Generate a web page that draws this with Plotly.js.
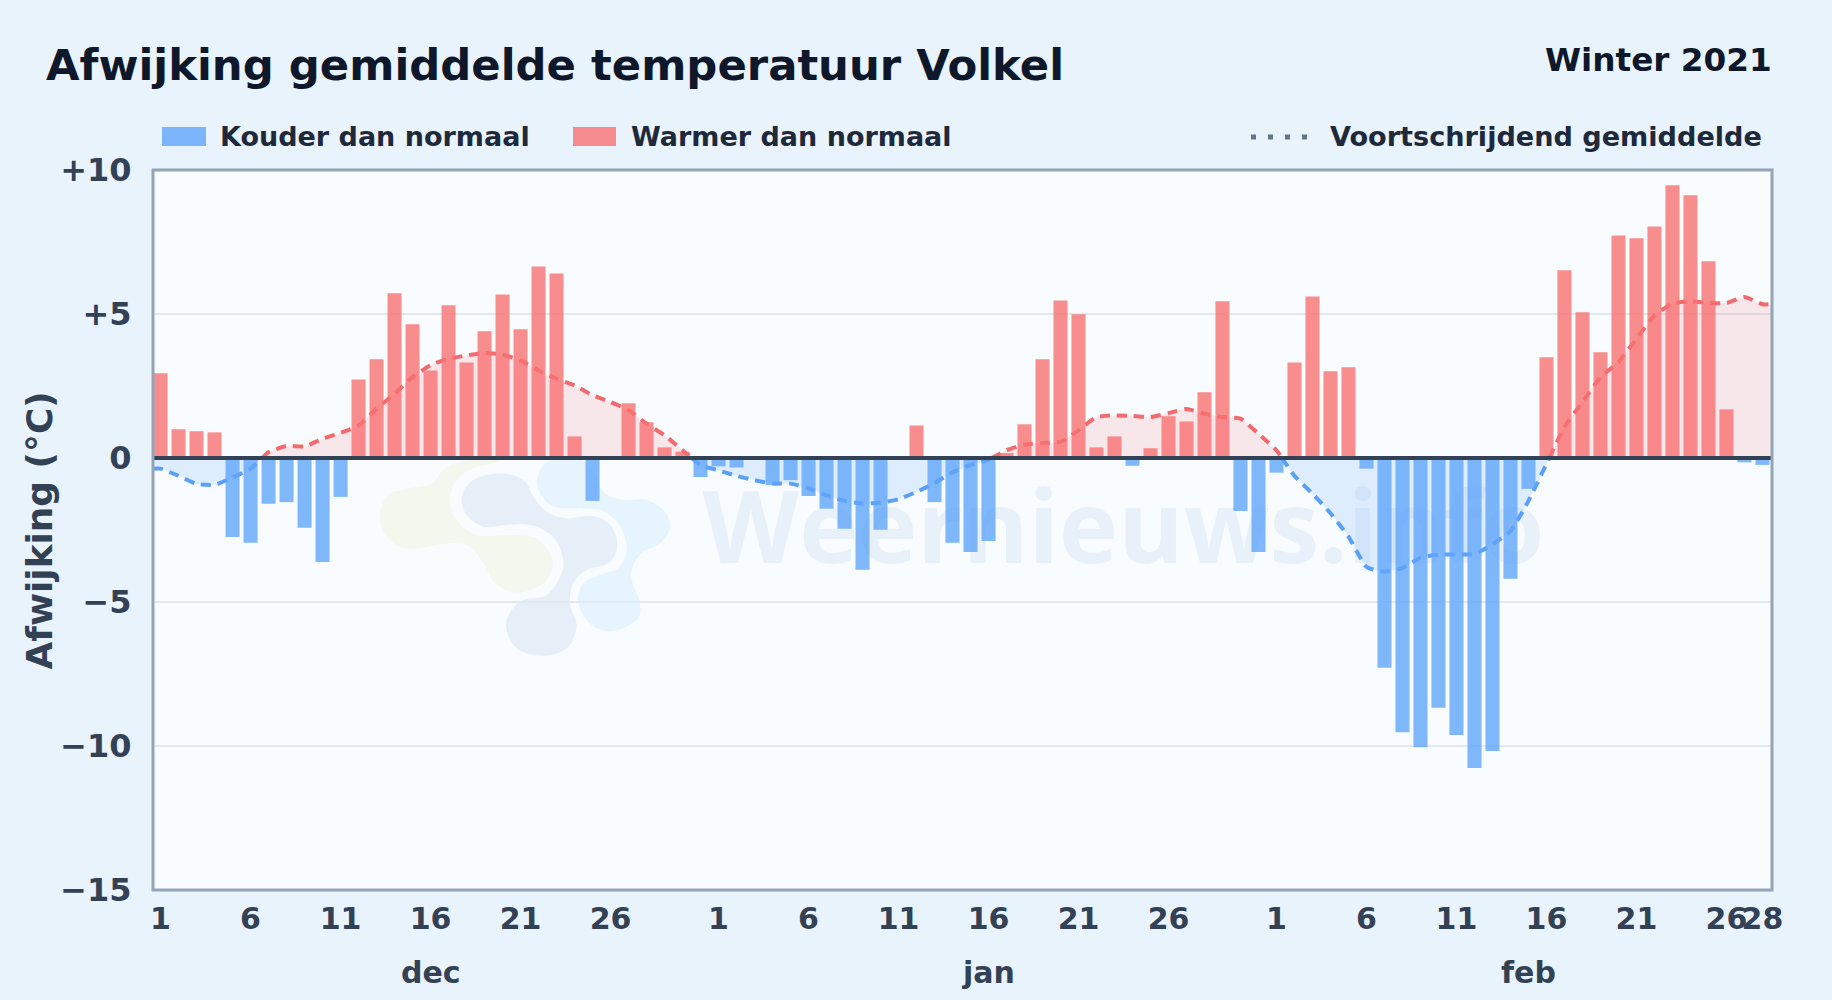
<!DOCTYPE html>
<html><head><meta charset="utf-8">
<script src="https://cdn.plot.ly/plotly-3.0.1.min.js"></script>
<style>html,body{margin:0;padding:0;background:#e9f3fc}#c{width:1832px;height:1000px}</style>
</head><body><div id="c"></div>
<script>
const afwijking = [2.94,1.0,0.93,0.89,-2.74,-2.94,-1.59,-1.53,-2.42,-3.61,-1.35,2.73,3.43,5.72,4.64,3.04,5.3,3.32,4.4,5.68,4.47,6.65,6.41,0.75,-1.49,0,1.9,1.24,0.37,0.22,-0.66,
-0.29,-0.33,0,-0.94,-0.77,-1.32,-1.76,-2.46,-3.88,-2.49,0,1.13,-1.53,-2.94,-3.26,-2.88,0.17,1.17,3.43,5.47,4.99,0.37,0.75,-0.27,0.34,1.45,1.27,2.28,5.44,-1.84,-3.26,
-0.51,3.32,5.61,3.01,3.15,-0.37,-7.28,-9.52,-10.04,-8.67,-9.62,-10.76,-10.17,-4.19,-1.07,3.5,6.52,5.06,3.67,7.73,7.63,8.04,9.47,9.12,6.83,1.69,-0.15,-0.24];
const gemiddelde = [-0.37,-0.62,-0.9,-0.93,-0.68,-0.37,0.2,0.42,0.4,0.67,0.87,1.13,1.71,2.23,2.81,3.22,3.45,3.56,3.65,3.59,3.39,3.04,2.75,2.52,2.18,1.94,1.66,1.19,0.79,0.27,-0.25,
-0.43,-0.62,-0.77,-0.89,-0.89,-1.05,-1.3,-1.49,-1.58,-1.55,-1.43,-1.18,-0.87,-0.5,-0.25,-0.06,0.27,0.47,0.52,0.56,0.96,1.42,1.48,1.46,1.42,1.56,1.7,1.54,1.42,1.37,0.84,
0.27,-0.62,-1.24,-1.92,-2.73,-3.78,-3.95,-3.82,-3.47,-3.35,-3.35,-3.33,-3.0,-2.54,-1.49,-0.2,1.08,1.94,2.8,3.33,4.14,4.95,5.36,5.44,5.38,5.38,5.59,5.34];
const xTickPos = [0,5,10,15,20,25,31,36,41,46,51,56,62,67,72,77,82,87,89];
const xTickText = ['1','6','11','16','21','26','1','6','11','16','21','26','1','6','11','16','21','26','28'];
const yTickVals = [-15,-10,-5,0,5,10];
const yTickText = ['−15','−10','−5','0','+5','+10'];
const months = ['dec','jan','feb'];
const monthPos = [15,46,76];
const legendLabels = ['Kouder dan normaal','Warmer dan normaal','Voortschrijdend gemiddelde'];
const xRange = [-0.42,89.53];
const yRange = [-15,10];

const W=1832,H=1000,ML=153,MR=60,MT=170,MB=110;
const PW=W-ML-MR,PH=H-MT-MB;
const px=v=>(v-ML)/PW, py=v=>1-(v-MT)/PH;
const days = afwijking.map((_,i)=>i);

// moving-average line, held out to the plot edges and split at zero crossings
const mx=[xRange[0]],my=[gemiddelde[0]];
gemiddelde.forEach((v,i)=>{
  mx.push(i);my.push(v);
  const n=gemiddelde[i+1];
  if(n!==undefined && v*n<0){mx.push(i+v/(v-n));my.push(0);}
});
mx.push(xRange[1]);my.push(gemiddelde[gemiddelde.length-1]);
const posLine=my.map(v=>v>=0?v:null), negLine=my.map(v=>v<=0?v:null);
const posFill=my.map(v=>Math.max(v,0)), negFill=my.map(v=>Math.min(v,0));

const traces=[
 {type:'scatter',mode:'lines',x:mx,y:negFill,fill:'tozeroy',fillcolor:'rgba(96,165,250,0.17)',line:{width:0,shape:'spline',smoothing:0.5},hoverinfo:'skip',showlegend:false},
 {type:'scatter',mode:'lines',x:mx,y:posFill,fill:'tozeroy',fillcolor:'rgba(248,113,113,0.15)',line:{width:0,shape:'spline',smoothing:0.5},hoverinfo:'skip',showlegend:false},
 {type:'scatter',mode:'lines',x:mx,y:negLine,line:{color:'#5aa0f8',width:4,dash:'10px,7px',shape:'spline',smoothing:0.5},connectgaps:false,showlegend:false},
 {type:'scatter',mode:'lines',x:mx,y:posLine,line:{color:'#f26a6e',width:4,dash:'10px,7px',shape:'spline',smoothing:0.5},connectgaps:false,showlegend:false},
 {type:'bar',name:legendLabels[0],x:days,y:afwijking.map(v=>v<0?v:null),width:0.78,marker:{color:'rgba(96,165,250,0.8)',line:{width:0}},xaxis:'x2',yaxis:'y2',showlegend:false},
 {type:'bar',name:legendLabels[1],x:days,y:afwijking.map(v=>v>0?v:null),width:0.78,marker:{color:'rgba(248,113,113,0.8)',line:{width:0}},xaxis:'x2',yaxis:'y2',showlegend:false}
];

// watermark logo: closed smooth blobs, in pixels of the logo crop
const logoOrigin=[360,440];
function blob(pts,color){
  const P=pts.map(p=>[logoOrigin[0]+p[0]/3,logoOrigin[1]+p[1]/3]);
  const n=P.length;let d='M'+px(P[0][0])+','+py(P[0][1]);
  for(let i=0;i<n;i++){
    const a=P[(i-1+n)%n],b=P[i],c=P[(i+1)%n],e=P[(i+2)%n];
    const c1=[b[0]+(c[0]-a[0])/6,b[1]+(c[1]-a[1])/6],c2=[c[0]-(e[0]-b[0])/6,c[1]-(e[1]-b[1])/6];
    d+='C'+px(c1[0])+','+py(c1[1])+' '+px(c2[0])+','+py(c2[1])+' '+px(c[0])+','+py(c[1]);
  }
  return {type:'path',xref:'paper',yref:'paper',path:d+'Z',fillcolor:color,line:{width:0},layer:'below'};
}
const logoGrey=[[305,170],[340,120],[420,100],[490,120],[520,170],[560,215],[620,235],[700,228],[755,260],[772,320],[745,370],[680,390],[640,430],[630,490],[650,560],[620,625],[545,648],[470,625],[438,560],[455,510],[490,480],[560,465],[600,410],[610,360],[580,290],[510,255],[440,255],[370,260],[320,225]];
const logoYellow=[[60,225],[85,165],[150,145],[215,130],[260,80],[330,60],[420,62],[340,85],[290,120],[270,180],[290,240],[350,285],[440,285],[530,295],[578,360],[555,425],[480,458],[410,435],[370,370],[330,320],[270,310],[200,320],[130,325],[75,285]];
const logoBlue=[[533,110],[565,65],[640,50],[700,90],[730,155],[790,180],[860,180],[915,215],[930,265],[900,310],[850,335],[820,375],[815,420],[840,490],[830,540],[760,573],[695,555],[655,490],[670,430],[720,405],[780,380],[800,320],[775,250],[720,210],[650,205],[580,200],[540,160]];

const FONT='"DejaVu Sans"';
const txt=(text,x,y,size,color,anchor,xref)=>({text,x,y,xref:xref||'paper',yref:'paper',xanchor:anchor||'left',yanchor:'middle',showarrow:false,font:{family:FONT,size,color,weight:700}});

const layout={
 width:W,height:H,autosize:false,
 paper_bgcolor:'#e9f3fc',plot_bgcolor:'#f8fcff',
 margin:{l:ML,r:MR,t:MT,b:MB,pad:0},
 barmode:'overlay',showlegend:false,
 title:{text:'Afwijking gemiddelde temperatuur Volkel',x:46/W,xanchor:'left',y:1-65/H,yanchor:'middle',font:{family:FONT,size:43.35,color:'#0f172a',weight:700}},
 xaxis:{range:xRange,tickmode:'array',tickvals:xTickPos,ticktext:xTickText,tickangle:0,showgrid:false,zeroline:false,showline:false,ticks:'outside',ticklen:2,tickcolor:'rgba(0,0,0,0)',tickfont:{family:FONT,size:30,color:'#334155',weight:700}},
 yaxis:{range:yRange,tickmode:'array',tickvals:yTickVals,ticktext:yTickText,showgrid:true,gridcolor:'#e2e8f0',gridwidth:2,zeroline:false,showline:false,ticks:'outside',ticklen:14,tickcolor:'rgba(0,0,0,0)',tickfont:{family:FONT,size:32,color:'#334155',weight:700}},
 xaxis2:{overlaying:'x',range:xRange,visible:false},
 yaxis2:{overlaying:'y',range:yRange,visible:false},
 shapes:[
  blob(logoYellow,'#f3f8ee'),blob(logoBlue,'#e6f4fe'),blob(logoGrey,'#e6eff8'),
  {type:'rect',xref:'paper',yref:'paper',x0:px(701),x1:px(1546),y0:py(492),y1:py(569),line:{width:0},fillcolor:'rgba(0,0,0,0)',layer:'below',
   label:{text:'<b>Weernieuws.info</b>',textposition:'middle center',font:{family:'"Open Sans"',size:100,color:'#e8f1f9'}}},
  {type:'line',xref:'paper',yref:'y',x0:0,x1:1,y0:0,y1:0,line:{color:'#334155',width:4},layer:'above'},
  {type:'rect',xref:'paper',yref:'paper',x0:0,x1:1,y0:0,y1:1,line:{color:'#94a3b8',width:3},fillcolor:'rgba(0,0,0,0)',layer:'above'},
  {type:'rect',xref:'paper',yref:'paper',x0:px(162),x1:px(206),y0:py(127),y1:py(146),fillcolor:'rgba(96,165,250,0.8)',line:{width:0}},
  {type:'rect',xref:'paper',yref:'paper',x0:px(573),x1:px(616),y0:py(127),y1:py(146),fillcolor:'rgba(248,113,113,0.8)',line:{width:0}},
  {type:'line',xref:'paper',yref:'paper',x0:px(1251),x1:px(1310),y0:py(137),y1:py(137),line:{color:'#64748b',width:5,dash:'5px,12px'}}
 ],
 annotations:[
  txt('Winter 2021',px(1774),py(60),32.7,'#0f172a','right'),
  txt(legendLabels[0],px(217.5),py(137),27,'#1e293b'),
  txt(legendLabels[1],px(628.5),py(137),27,'#1e293b'),
  txt(legendLabels[2],px(1328),py(137),27.1,'#1e293b'),
  ...months.map((m,i)=>txt(m,monthPos[i],py(972),30,'#334155','center','x')),
  Object.assign(txt('Afwijking (°C)',px(38.5),py(530),35.9,'#334155','center'),{textangle:-90})
 ]
};
Plotly.newPlot('c',traces,layout,{displayModeBar:false,staticPlot:true});
</script></body></html>
